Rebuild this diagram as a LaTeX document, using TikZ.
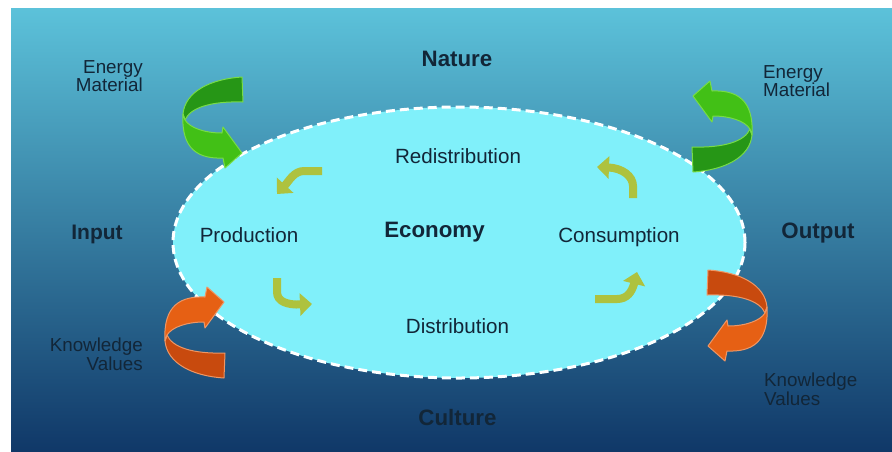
\documentclass[tikz,border=0pt]{standalone}
\usepackage{fontspec}
\setmainfont{Liberation Sans}
\usetikzlibrary{arrows.meta}
\definecolor{bgtop}{RGB}{92,194,218}
\definecolor{bgmid}{RGB}{44,136,180}
\definecolor{bgbot}{RGB}{16,56,104}
\definecolor{ellfill}{RGB}{128,240,250}
\definecolor{txt}{RGB}{18,38,56}
\definecolor{gdark}{RGB}{38,150,22}
\definecolor{glight}{RGB}{66,192,22}
\definecolor{gline}{RGB}{120,220,70}
\definecolor{odark}{RGB}{200,74,14}
\definecolor{olight}{RGB}{230,96,20}
\definecolor{oline}{RGB}{238,150,100}
\definecolor{ygreen}{RGB}{174,194,62}
\newcommand\curvedribbon[3]{%
  \filldraw[fill=#1, draw=#3, line width=1pt, line join=round]
    (29,-45) -- (30,-20) .. controls (-3,-21) and (-23,-14) .. (-28,-2)
    -- (-30,-8) .. controls (-28,-30) and (-3,-43) .. (29,-45) -- cycle;
  \filldraw[fill=#2, draw=#3, line width=1pt, line join=round]
    (-30,-8) .. controls (-32,28) and (-14,37) .. (10,36) -- (12,46) -- (29,31)
    -- (10,5) -- (9,11) .. controls (-8,11) and (-23,6) .. (-28,-2) -- cycle;
}
\tikzset{
  lbl/.style={text=txt, inner sep=0pt, font=\fontsize{20.6}{24}\selectfont},
  blbl/.style={text=txt, inner sep=0pt, font=\fontsize{22.3}{26}\selectfont\bfseries},
  sm/.style={text=txt, inner sep=0pt, font=\fontsize{18.8}{18.6}\selectfont},
  cyclearrow/.style={draw=ygreen, line width=8pt, -{Triangle[width=22pt,length=12pt]}},
  econzone/.style={fill=ellfill, draw=white, line width=3pt, dash pattern=on 9pt off 5pt},
}
\begin{document}
\begin{tikzpicture}[x=1pt,y=-1pt]
\useasboundingbox (0,0) rectangle (892,451);
\fill[white] (0,0) rectangle (892,451);
\shade[top color=bgtop, middle color=bgmid, bottom color=bgbot] (11,8) rectangle (892,451);

% economy ellipse
\path[econzone] (459,242.5) ellipse [x radius=286pt, y radius=135.5pt];

% big curved arrows (in front of the ellipse)
\begin{scope}[shift={(213,122)}]
  \curvedribbon{gdark}{glight}{gline}
\end{scope}
\begin{scope}[shift={(722,127)}, rotate=180]
  \curvedribbon{gdark}{glight}{gline}
\end{scope}
\begin{scope}[shift={(195,333)}, yscale=-1]
  \curvedribbon{odark}{olight}{oline}
\end{scope}
\begin{scope}[shift={(737,315)}, xscale=-1]
  \curvedribbon{odark}{olight}{oline}
\end{scope}

% labels
\node[blbl, anchor=base] (nature) at (457,66.5) {Nature};
\node[blbl, anchor=base] (culture) at (457.5,425) {Culture};
\node[blbl, anchor=base, font=\fontsize{21}{25}\selectfont\bfseries] (input) at (97,239) {Input};
\node[blbl, anchor=base] (output) at (818,238.5) {Output};
\node[blbl, anchor=base] (economy) at (434.5,237) {Economy};
\node[lbl, anchor=base] (production) at (249,242) {Production};
\node[lbl, anchor=base] (consumption) at (619,242) {Consumption};
\node[lbl, anchor=base] (redistribution) at (458,163.3) {Redistribution};
\node[lbl, anchor=base] (distribution) at (457.5,333) {Distribution};

\node[sm, anchor=east, align=right] (emleft) at (143,76) {Energy\\Material};
\node[sm, anchor=west, align=left] (emright) at (763,81) {Energy\\Material};
\node[sm, anchor=east, align=right] (kvleft) at (143,354) {Knowledge\\Values};
\node[sm, anchor=west, align=left] (kvright) at (764,389) {Knowledge\\Values};

% cycle arrows
\coordinate (c1s) at (322,171); \coordinate (c1e) at (277,194);
\coordinate (c2s) at (633,198); \coordinate (c2e) at (597,167);
\coordinate (c3s) at (277,278); \coordinate (c3e) at (312,304);
\coordinate (c4s) at (595,299); \coordinate (c4e) at (637,272);
\draw[cyclearrow] (c1s) -- (304,171) .. controls (294,171) and (289,181) .. (c1e);
\draw[cyclearrow] (c2s) -- (633,186) .. controls (633,176) and (622,168) .. (c2e);
\draw[cyclearrow] (c3s) -- (277,292) .. controls (277,302) and (288,305) .. (c3e);
\draw[cyclearrow] (c4s) -- (617,299) .. controls (627,299) and (632,292) .. (c4e);
\end{tikzpicture}
\end{document}
